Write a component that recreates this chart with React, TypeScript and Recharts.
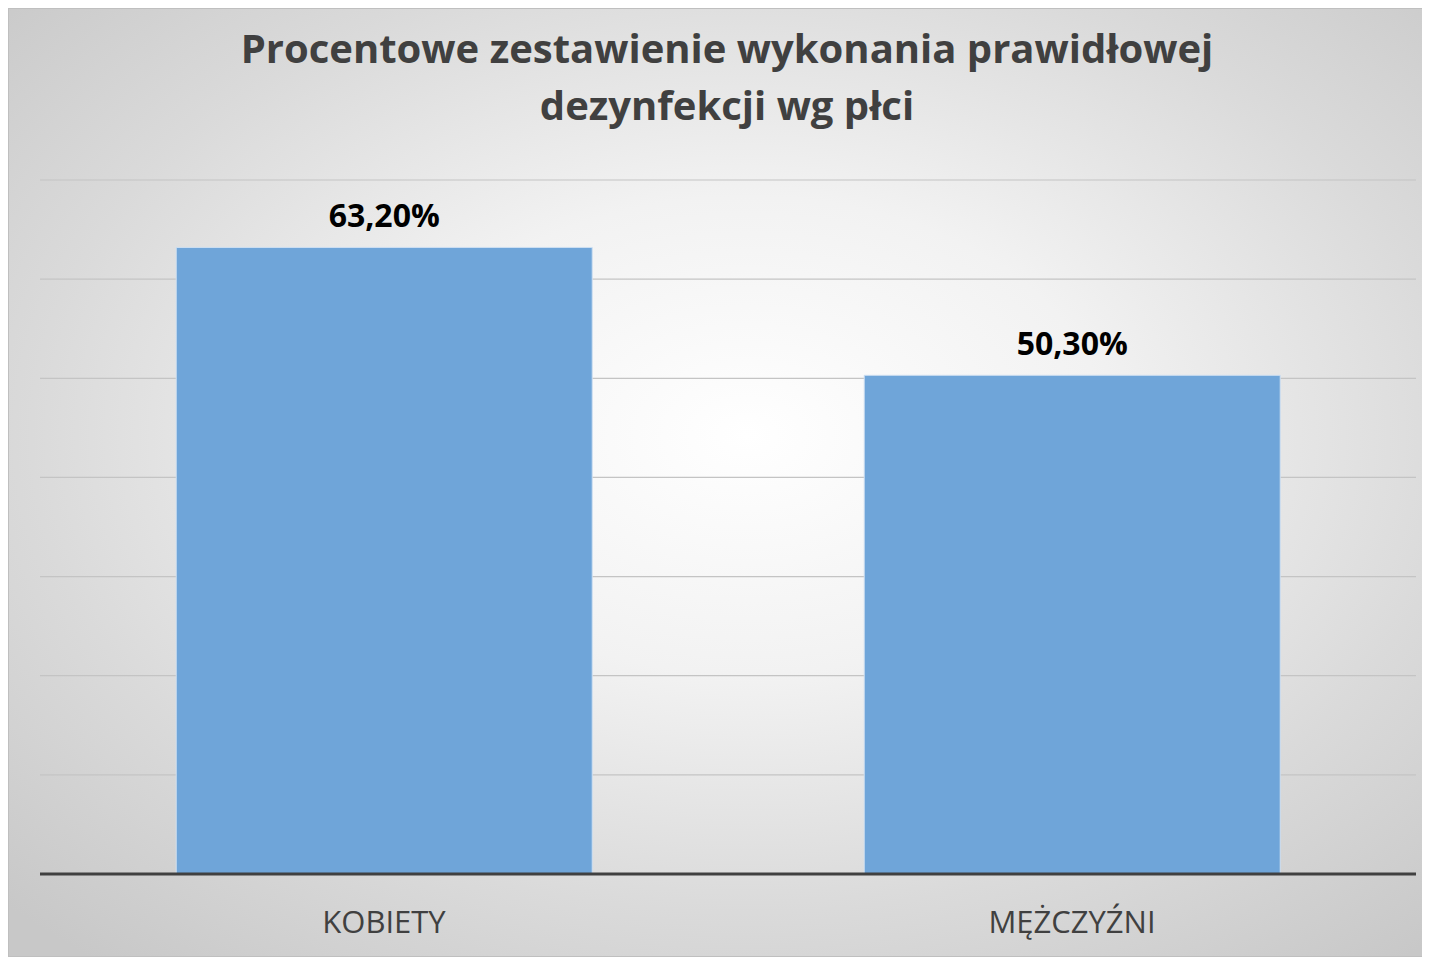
import React from "react";
import {
  BarChart,
  Bar,
  XAxis,
  YAxis,
  CartesianGrid,
  LabelList,
} from "recharts";

// kategorie i wartości (%)
const categories = ["KOBIETY", "MĘŻCZYŹNI"];
const values = [63.2, 50.3];
const yTicks = [0, 10, 20, 30, 40, 50, 60, 70];
const titleLines = [
  "Procentowe zestawienie wykonania prawidłowej",
  "dezynfekcji wg płci",
];

const data = categories.map((name, i) => ({ name, value: values[i] }));

const W = 1422;
const H = 949;
const FONT = "'Open Sans', 'Noto Sans', sans-serif";

const fmtPct = (v: number) => v.toFixed(2).replace(".", ",") + "%";

export default function App() {
  return (
    <div
      style={{
        position: "relative",
        width: W,
        height: H,
        boxSizing: "border-box",
        border: "1px solid #bfbfbf",
        background:
          "radial-gradient(ellipse 72% 72% at 52% 45%, #ffffff 0%, #f2f2f2 35%, #dadada 70%, #c8c8c8 100%)",
        fontFamily: FONT,
      }}
    >
      {/* tytuł */}
      <div
        style={{
          position: "absolute",
          top: 10,
          left: 16,
          right: 0,
          textAlign: "center",
          color: "#404040",
          fontWeight: 700,
          fontSize: 40,
          lineHeight: "57px",
        }}
      >
        {titleLines.map((t) => (
          <div key={t}>{t}</div>
        ))}
      </div>

      <BarChart
        width={W - 2}
        height={H - 2}
        data={data}
        margin={{ top: 171, right: 13, bottom: 22, left: 31 }}
        barCategoryGap="19.8%"
      >
        <CartesianGrid vertical={false} stroke="#c4c4c4" strokeWidth={1.2} />
        <YAxis hide domain={[0, 70]} ticks={yTicks} />
        <XAxis
          dataKey="name"
          height={60}
          axisLine={{ stroke: "#404040", strokeWidth: 3 }}
          tickLine={false}
          tick={{ fill: "#404040", fontSize: 31, fontFamily: FONT }}
          dy={29}
        />
        <Bar
          dataKey="value"
          fill="#6fa5d9"
          stroke="#cfe0f2"
          strokeWidth={1}
          isAnimationActive={false}
        >
          <LabelList
            dataKey="value"
            position="top"
            offset={20}
            formatter={(v: number) => fmtPct(v)}
            style={{ fill: "#000", fontSize: 32, fontWeight: 700, fontFamily: FONT }}
          />
        </Bar>
      </BarChart>
    </div>
  );
}
